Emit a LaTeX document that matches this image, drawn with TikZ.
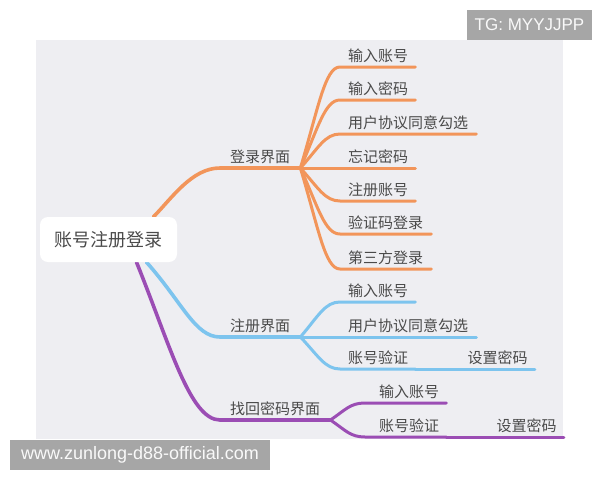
\documentclass[tikz,border=0pt]{standalone}
\usepackage{fontspec}
\setmainfont{Noto Sans CJK SC}
\newfontfamily\latinfont{Liberation Sans}
\usetikzlibrary{positioning, backgrounds}

\definecolor{bgc}{HTML}{EEEEF2}
\definecolor{orangeb}{HTML}{F2955A}
\definecolor{blueb}{HTML}{7DC4EE}
\definecolor{purpleb}{HTML}{9B4DB4}
\definecolor{txt}{HTML}{4A4A4A}
\definecolor{markg}{HTML}{A6A6A6}

\begin{document}
\begin{tikzpicture}[x=1pt, y=-1pt,
	leaf/.style={anchor=base west, inner sep=0pt, text=txt, font=\fontsize{15}{18}\selectfont},
	branch/.style={line width=3pt, line cap=round},
	mainbranch/.style={line width=3.6pt, line cap=round},
	wmark/.style={fill=markg, text=white!93!markg, inner sep=0pt, font=\latinfont\fontsize{17}{20}\selectfont}]
					\useasboundingbox (0,0) rectangle (600,480);
					
					% Nodo centrale
					\node[fill=white, rounded corners=8pt, minimum width=137pt, minimum height=45pt, text=txt, font=\fontsize{18}{22}\selectfont] (root) at (108.5,239.5) {账号注册登录};
					
					% Sezioni
					\node[leaf] (login) at (230,162) {登录界面};
					\node[leaf] (reg) at (230,331) {注册界面};
					\node[leaf] (find) at (230,414) {找回密码界面};
					\coordinate (loginH) at ([shift={(10pt,-6pt)}]login.base east);
					\coordinate (regH) at ([shift={(10pt,-6pt)}]reg.base east);
					\coordinate (findH) at ([shift={(10pt,-6pt)}]find.base east);
					
					% Foglie login
					\node[leaf] (o1) at (348,61) {输入账号};
					\node[leaf] (o2) at (348,94) {输入密码};
					\node[leaf] (o3) at (348,128) {用户协议同意勾选};
					\node[leaf] (o4) at (348,162) {忘记密码};
					\node[leaf] (o5) at (348,195) {注册账号};
					\node[leaf] (o6) at (348,228) {验证码登录};
					\node[leaf] (o7) at (348,263) {第三方登录};
					
					% Foglie registrazione
					\node[leaf] (b1) at (348,296) {输入账号};
					\node[leaf] (b2) at (348,331) {用户协议同意勾选};
					\node[leaf] (b3) at (348,363) {账号验证};
					\node[leaf, right=59pt of b3.base east, anchor=base west] (b4) {设置密码};
					
					% Foglie recupero
					\node[leaf] (p1) at (379,397) {输入账号};
					\node[leaf] (p2) at (379,431) {账号验证};
					\node[leaf, right=57pt of p2.base east, anchor=base west] (p3) {设置密码};
					
					% Filigrane
					\node[wmark, minimum width=125pt, minimum height=30pt] (tg) at (529.5,25) {TG: MYYJJPP};
					\node[wmark, minimum width=260pt, minimum height=30pt, font=\latinfont\fontsize{18}{21}\selectfont] (site) at (140,455) {www.zunlong-d88-official.com};
					
					\begin{scope}[on background layer]
					\fill[white] (0,0) rectangle (600,480);
					\fill[bgc] (36,40) rectangle (563,439);
					
					% Rami principali
					\draw[mainbranch, orangeb] ([xshift=45pt]root.north) .. controls (172,198) and (192,168) .. ([shift={(-10pt,-6pt)}]login.base west) -- (loginH);
					\draw[mainbranch, blueb] ([xshift=38pt]root.south) .. controls (182,302) and (195,337) .. ([shift={(-10pt,-6pt)}]reg.base west) -- (regH);
					\draw[mainbranch, purpleb] ([xshift=28pt]root.south) .. controls (170,345) and (190,420) .. ([shift={(-10pt,-6pt)}]find.base west) -- (findH);
					
					% Connessioni login
					\draw[branch, orangeb] (loginH) .. controls +(18,-60) and +(-15,0) .. ([shift={(-8pt,-6pt)}]o1.base west) -- ([shift={(7pt,-6pt)}]o1.base east);
					\draw[branch, orangeb] (loginH) .. controls +(18,-41) and +(-15,0) .. ([shift={(-8pt,-6pt)}]o2.base west) -- ([shift={(7pt,-6pt)}]o2.base east);
					\draw[branch, orangeb] (loginH) .. controls +(18,-20) and +(-15,0) .. ([shift={(-8pt,-6pt)}]o3.base west) -- ([shift={(8pt,-6pt)}]o3.base east);
					\draw[branch, orangeb] (loginH) -- ([shift={(7pt,-6pt)}]o4.base east);
					\draw[branch, orangeb] (loginH) .. controls +(18,20) and +(-15,0) .. ([shift={(-8pt,-6pt)}]o5.base west) -- ([shift={(7pt,-6pt)}]o5.base east);
					\draw[branch, orangeb] (loginH) .. controls +(18,40) and +(-15,0) .. ([shift={(-8pt,-6pt)}]o6.base west) -- ([shift={(8pt,-6pt)}]o6.base east);
					\draw[branch, orangeb] (loginH) .. controls +(18,60) and +(-15,0) .. ([shift={(-8pt,-6pt)}]o7.base west) -- ([shift={(8pt,-6pt)}]o7.base east);
					
					% Connessioni registrazione
					\draw[branch, blueb] (regH) .. controls +(18,-21) and +(-15,0) .. ([shift={(-8pt,-6pt)}]b1.base west) -- ([shift={(7pt,-6pt)}]b1.base east);
					\draw[branch, blueb] (regH) -- ([shift={(8pt,-6pt)}]b2.base east);
					\draw[branch, blueb] (regH) .. controls +(18,19) and +(-15,0) .. ([shift={(-8pt,-6pt)}]b3.base west) -- ([shift={(7pt,-6pt)}]b3.base east);
					\draw[branch, blueb] ([shift={(7pt,-6pt)}]b3.base east) -- ([shift={(7pt,-6pt)}]b4.base east);
					
					% Connessioni recupero
					\draw[branch, purpleb] (findH) .. controls +(15,-10) and +(-15,0) .. ([shift={(-14pt,-6pt)}]p1.base west) -- ([shift={(7pt,-6pt)}]p1.base east);
					\draw[branch, purpleb] (findH) .. controls +(15,10) and +(-15,0) .. ([shift={(-14pt,-6pt)}]p2.base west) -- ([shift={(7pt,-6pt)}]p2.base east);
					\draw[branch, purpleb] ([shift={(7pt,-6pt)}]p2.base east) -- ([shift={(7pt,-6pt)}]p3.base east);
					\end{scope}
				\end{tikzpicture}
\end{document}
